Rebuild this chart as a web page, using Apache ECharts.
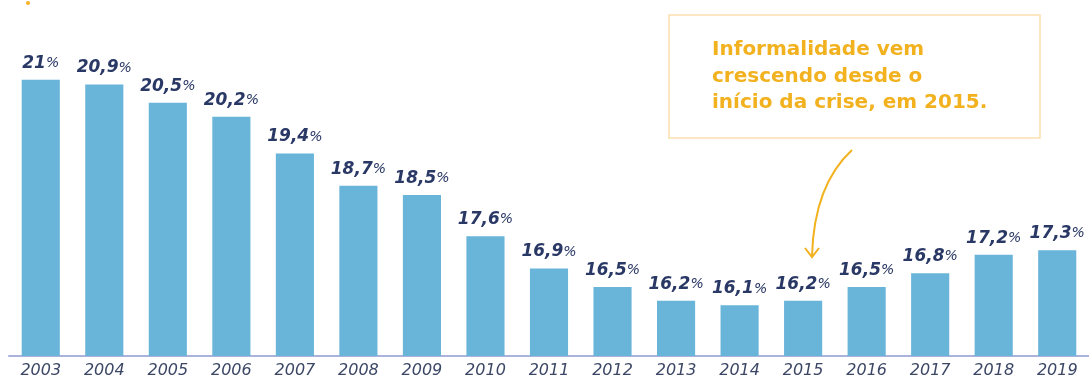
<!DOCTYPE html>
<html>
<head>
<meta charset="utf-8">
<script src="https://cdn.jsdelivr.net/npm/echarts@6/dist/echarts.min.js"></script>
<style>
  html, body { margin: 0; padding: 0; background: #ffffff; }
  #chart { width: 1089px; height: 381px; }
</style>
</head>
<body>
<div id="chart"></div>
<script>
// Taxa de informalidade por ano (%)
const years = ['2003', '2004', '2005', '2006', '2007', '2008', '2009', '2010', '2011',
  '2012', '2013', '2014', '2015', '2016', '2017', '2018', '2019'];
const rates = [21, 20.9, 20.5, 20.2, 19.4, 18.7, 18.5, 17.6, 16.9,
  16.5, 16.2, 16.1, 16.2, 16.5, 16.8, 17.2, 17.3];
const noteLines = ['Informalidade vem', 'crescendo desde o', 'início da crise, em 2015.'];

const chart = echarts.init(document.getElementById('chart'));

function pctLabel(v) {
  const s = String(v).replace('.', ',');
  return '{n|' + s + '}{p|%}';
}

chart.setOption({
  backgroundColor: '#ffffff',
  animation: false,
  grid: { left: 9, top: 20, width: 1082, bottom: 25 },
  xAxis: {
    type: 'category',
    data: years,
    axisTick: { show: false },
    axisLine: { lineStyle: { color: '#a9b3dc', width: 2 } },
    axisLabel: {
      fontFamily: 'DejaVu Sans',
      fontStyle: 'italic',
      fontSize: 16,
      color: '#3c4766',
      margin: 7
    }
  },
  yAxis: {
    type: 'value',
    min: 15,
    max: 22.3,
    show: false,
    splitLine: { show: false }
  },
  series: [{
    type: 'bar',
    data: rates,
    barWidth: '60%',
    itemStyle: { color: '#69b4d9' },
    label: {
      show: true,
      position: 'top',
      distance: 8,
      formatter: p => pctLabel(p.value),
      rich: {
        n: { fontFamily: 'DejaVu Sans', fontStyle: 'italic', fontWeight: 'bold', fontSize: 17, color: '#2a3865' },
        p: { fontFamily: 'DejaVu Sans', fontStyle: 'italic', fontWeight: 'normal', fontSize: 14, color: '#2a3865' }
      }
    }
  }],
  graphic: [
    { type: 'circle', shape: { cx: 28, cy: 3, r: 2 }, style: { fill: '#f5b324' } },
    {
      type: 'rect',
      shape: { x: 669, y: 15, width: 371, height: 123 },
      style: { fill: '#ffffff', stroke: '#fbe0ae', lineWidth: 1.5 }
    },
    {
      type: 'text',
      x: 712, y: 37,
      style: {
        text: noteLines.join('\n'),
        font: 'bold 20px "DejaVu Sans"',
        fill: '#f2b11e',
        lineHeight: 26.5
      }
    },
    {
      type: 'bezierCurve',
      shape: { x1: 852, y1: 150, cpx1: 814, cpy1: 185, x2: 812, y2: 256 },
      style: { stroke: '#f2b21f', lineWidth: 2, fill: null }
    },
    {
      type: 'polyline',
      shape: { points: [[805, 248], [812, 257], [819, 248]] },
      style: { stroke: '#f2b21f', lineWidth: 2, fill: null }
    }
  ]
});
</script>
</body>
</html>
